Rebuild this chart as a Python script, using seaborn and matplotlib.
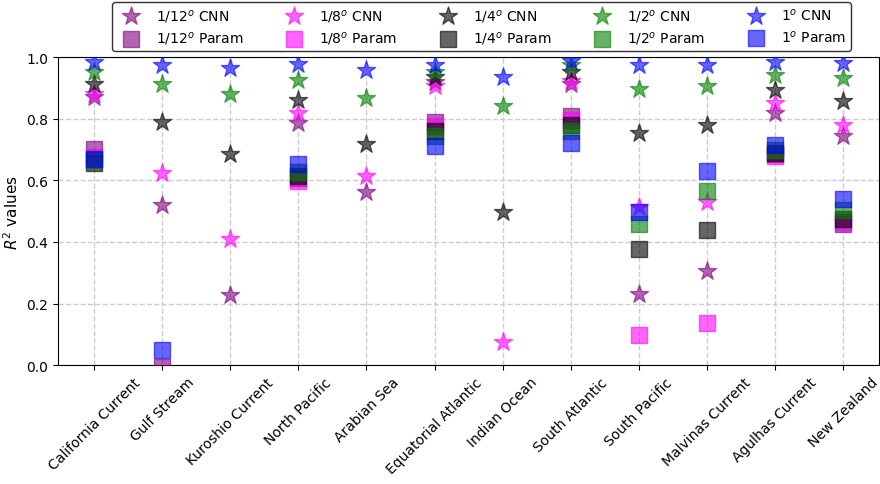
import numpy as np
import pandas as pd
import matplotlib
matplotlib.use("Agg")
import matplotlib.pyplot as plt
import seaborn as sns

regions = ["California Current", "Gulf Stream", "Kuroshio Current", "North Pacific",
           "Arabian Sea", "Equatorial Atlantic", "Indian Ocean", "South Atlantic",
           "South Pacific", "Malvinas Current", "Agulhas Current", "New Zealand"]

resolutions = ["1/12", "1/8", "1/4", "1/2", "1"]
colors = ["purple", "magenta", "k", "g", "b"]

nan = np.nan
# R^2 of the CNN for each resolution
cnn_1_12 = [0.870, 0.520, 0.227, 0.786, 0.563, 0.920, nan, 0.912, 0.230, 0.305, 0.818, 0.745]
cnn_1_8 = [0.880, 0.623, 0.411, 0.818, 0.614, 0.907, 0.075, 0.923, 0.513, 0.530, 0.851, 0.779]
cnn_1_4 = [0.912, 0.789, 0.686, 0.860, 0.717, 0.937, 0.497, 0.952, 0.753, 0.779, 0.894, 0.858]
cnn_1_2 = [0.951, 0.913, 0.880, 0.925, 0.868, 0.953, 0.842, 0.975, 0.896, 0.905, 0.941, 0.931]
cnn_1 = [0.985, 0.974, 0.964, 0.977, 0.957, 0.975, 0.935, 0.988, 0.974, 0.975, 0.983, 0.980]

# R^2 of the parameterization for each resolution
param_1_12 = [0.703, -0.005, nan, 0.607, nan, 0.790, nan, 0.810, nan, nan, 0.685, 0.460]
param_1_8 = [0.675, nan, nan, 0.597, nan, 0.775, nan, 0.797, 0.099, 0.136, 0.678, 0.465]
param_1_4 = [0.657, nan, nan, 0.615, nan, 0.760, nan, 0.780, 0.378, 0.440, 0.690, 0.475]
param_1_2 = [0.665, nan, nan, 0.627, nan, 0.745, nan, 0.760, 0.460, 0.565, 0.698, 0.505]
param_1 = [0.670, 0.050, nan, 0.653, nan, 0.712, nan, 0.722, 0.497, 0.630, 0.715, 0.540]

cnn = [cnn_1_12, cnn_1_8, cnn_1_4, cnn_1_2, cnn_1]
param = [param_1_12, param_1_8, param_1_4, param_1_2, param_1]

fig = plt.figure(figsize=(8.8, 4.85), dpi=100)
ax = fig.add_axes([0.066, 0.245, 0.933, 0.635])

xpos = np.arange(len(regions))
for res, col, yc, yp in zip(resolutions, colors, cnn, param):
    sns.scatterplot(x=xpos, y=yc, marker="*", s=190, color=col, edgecolor=col,
                    alpha=0.6, linewidth=1, ax=ax, label=f"{res}$^o$ CNN", zorder=3)
    sns.scatterplot(x=xpos, y=yp, marker="s", s=145, color=col, edgecolor=col,
                    alpha=0.6, linewidth=1, ax=ax, label=f"{res}$^o$ Param", zorder=3)

ax.set_xlim(-0.53, len(regions) - 0.47)
ax.set_ylim(0, 1.0)
ax.set_yticks(np.arange(0, 1.01, 0.2))
ax.set_xticks(xpos)
ax.set_xticklabels(regions, rotation=45, ha="center", fontsize=10)
ax.tick_params(axis="y", labelsize=10)
ax.set_ylabel("$R^2$ values", fontsize=11)
ax.set_xlabel("")
ax.grid(True, linestyle="--", color="#cccccc", linewidth=1)
ax.set_axisbelow(True)

ax.legend(loc="lower center", bbox_to_anchor=(0.516, 1.02), ncol=5,
          fontsize=10, frameon=True, edgecolor="black", borderaxespad=0,
          columnspacing=2.65, handletextpad=0.8, labelspacing=0.4, borderpad=0.35)

fig.savefig("out.png", dpi=100)
